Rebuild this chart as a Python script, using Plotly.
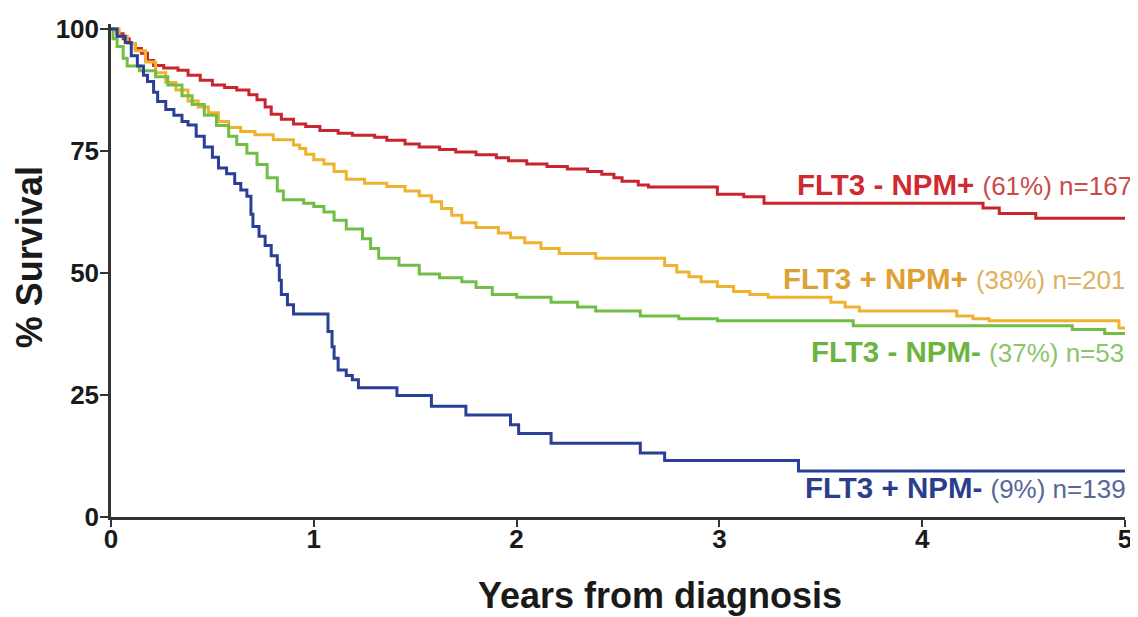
import plotly.graph_objects as go

# Kaplan-Meier step points (years, % surviving)
red_t = [0, 0.03, 0.06, 0.09, 0.12, 0.15, 0.18, 0.21, 0.26, 0.33, 0.38, 0.44, 0.50, 0.56, 0.62,
         0.68, 0.72, 0.76, 0.79, 0.84, 0.90, 0.96, 1.03, 1.12, 1.19, 1.30, 1.36, 1.45, 1.52, 1.62,
         1.70, 1.80, 1.90, 1.96, 2.05, 2.15, 2.25, 2.35, 2.42, 2.48, 2.52, 2.60, 2.65, 2.99, 3.12,
         3.22, 4.30, 4.38, 4.56, 5.0]
red_s = [100, 99, 98, 97, 96, 95, 93.5, 92.5, 92, 91.5, 90.5, 89.5, 88.5, 88, 87.5,
         86.5, 85.5, 84, 82.5, 81.5, 80.5, 80, 79.2, 78.6, 78.2, 77.8, 77.2, 76.4, 75.8, 75.3,
         74.8, 74.2, 73.6, 73.0, 72.3, 71.8, 71.3, 70.8, 70.2, 69.5, 68.8, 68.0, 67.6, 66.1, 65.6,
         64.3, 63.3, 62.2, 61.2, 61.2]

orange_t = [0, 0.04, 0.08, 0.12, 0.17, 0.22, 0.27, 0.32, 0.38, 0.43, 0.48, 0.53, 0.58, 0.64, 0.71,
            0.80, 0.90, 0.93, 0.96, 1.00, 1.05, 1.10, 1.16, 1.25, 1.36, 1.45, 1.52, 1.58, 1.63, 1.68,
            1.73, 1.80, 1.91, 1.97, 2.04, 2.12, 2.21, 2.39, 2.73, 2.79, 2.85, 2.91, 2.99, 3.07, 3.15,
            3.24, 3.55, 3.62, 3.69, 4.17, 4.25, 4.33, 4.97, 5.0]
orange_s = [100, 98.5, 97, 95.5, 93.2, 91, 89, 87.5, 85.2, 84, 82.8, 81, 79.8, 79, 78.3,
            77.3, 76.2, 75.5, 74.3, 73.2, 72.3, 70.8, 69.2, 68.4, 67.7, 66.8, 65.8, 64.6, 63.2, 61.8,
            60.3, 59.3, 58.2, 57.2, 56.2, 55.0, 54.0, 53.0, 51.5, 50.2, 49.2, 48.2, 47.2, 46.2, 45.6,
            45.0, 44.0, 43.0, 42.2, 41.2, 40.6, 40.2, 38.7, 38.7]

green_t = [0, 0.01, 0.03, 0.06, 0.08, 0.14, 0.22, 0.28, 0.35, 0.40, 0.46, 0.52, 0.58, 0.62, 0.67,
           0.72, 0.77, 0.82, 0.85, 0.95, 1.00, 1.05, 1.10, 1.16, 1.24, 1.28, 1.32, 1.42, 1.52, 1.62,
           1.73, 1.80, 1.88, 2.00, 2.17, 2.30, 2.39, 2.61, 2.80, 2.99, 3.66, 4.74, 4.90, 5.0]
green_s = [100, 98, 96.4, 94, 92.4, 91.4, 90.2, 88.5, 86.3, 84.5, 82.3, 80.2, 78, 76.3, 74.5,
           72.2, 69.5, 66.8, 65.0, 64.3, 63.6, 62.5, 60.8, 59, 57.0, 55, 53.0, 51.6, 49.8, 49.0,
           48.2, 47.0, 45.6, 45.0, 44.0, 43.0, 42.2, 41.2, 40.6, 40.2, 39.2, 38.4, 37.6, 37.6]

blue_t = [0, 0.03, 0.07, 0.10, 0.13, 0.16, 0.18, 0.21, 0.23, 0.27, 0.31, 0.35, 0.38, 0.42, 0.46,
          0.50, 0.53, 0.57, 0.61, 0.64, 0.67, 0.69, 0.70, 0.73, 0.76, 0.79, 0.82, 0.83, 0.84, 0.87,
          0.90, 1.07, 1.09, 1.10, 1.12, 1.16, 1.19, 1.22, 1.41, 1.58, 1.75, 1.97, 2.01, 2.17, 2.61,
          2.73, 3.39, 5.0]
blue_s = [100, 98.5, 97.2, 94.5, 92.4, 90.5, 89.2, 87, 85.1, 83.5, 82.3, 81, 80.3, 78, 75.8,
          73.7, 71.5, 70.3, 68.3, 67.0, 65.7, 62, 59.5, 57.5, 55.6, 53.5, 51.6, 48.5, 45.6, 43.5,
          41.6, 38, 34.9, 32.5, 30.1, 29, 28.1, 26.5, 24.9, 22.7, 20.9, 18.9, 17.1, 15.1, 13.1,
          11.6, 9.4, 9.4]

groups = ["FLT3 - NPM+", "FLT3 + NPM+", "FLT3 - NPM-", "FLT3 + NPM-"]
pct = ["(61%)", "(38%)", "(37%)", "(9%)"]
n_pat = [167, 201, 53, 139]

y_ticks = [0, 25, 50, 75, 100]
x_ticks = [0, 1, 2, 3, 4, 5]

line_cols = ["#c9252c", "#efb22e", "#72bd45", "#2a3f96"]
bold_cols = ["#cf2a2f", "#dfa033", "#6bb43f", "#2b3e8c"]
soft_cols = ["#c94a4a", "#e0b060", "#8cc46c", "#56679a"]

fig = go.Figure()
for t, s, c in zip([red_t, orange_t, green_t, blue_t], [red_s, orange_s, green_s, blue_s], line_cols):
    fig.add_trace(go.Scatter(x=t, y=s, mode="lines", line=dict(color=c, width=3, shape="hv"),
                             showlegend=False, hoverinfo="skip"))

# label placement (data coords: right edge x, vertical middle y)
lab_x = [5.0, 4.97, 4.96, 4.97]
lab_y = [68.1, 48.8, 34.0, 6.0]
for i in range(4):
    fig.add_annotation(
        x=lab_x[i], y=lab_y[i], xref="x", yref="y", xanchor="right", yanchor="middle",
        xshift=9, showarrow=False,
        text=f"<b>{groups[i]}</b> <span style='color:{soft_cols[i]};font-size:26px'>{pct[i]} n={n_pat[i]}</span>",
        font=dict(family="Liberation Sans, Arial", size=29.5, color=bold_cols[i]))

fig.add_annotation(x=-0.081, y=53.2, xref="paper", yref="y", textangle=-90, showarrow=False,
                   text="<b>% Survival</b>", xanchor="center", yanchor="middle",
                   font=dict(family="Liberation Sans, Arial", size=36, color="#1a1a1a"))
fig.add_annotation(x=(662 - 111) / 1018, y=-0.16, xref="paper", yref="paper", showarrow=False,
                   text="<b>Years from diagnosis</b>", xanchor="center", yanchor="middle",
                   font=dict(family="Liberation Sans, Arial", size=36, color="#1a1a1a"))

axis_font = dict(family="Liberation Sans, Arial", size=26, color="#1a1a1a", weight="bold")
fig.update_xaxes(range=[0, 5], tickvals=x_ticks, ticks="outside", ticklen=7, tickwidth=2,
                 tickcolor="#333", showline=True, linewidth=2.5, linecolor="#333",
                 showgrid=False, zeroline=False, tickfont=axis_font, ticklabelstandoff=-10,
                 ticklabeloverflow="allow")
fig.update_yaxes(range=[0, 101], tickvals=y_ticks, ticks="outside", ticklen=8, tickwidth=2,
                 tickcolor="#333", showline=True, linewidth=2.5, linecolor="#333",
                 showgrid=False, zeroline=False, tickfont=axis_font, ticklabelstandoff=-4,
                 ticklabeloverflow="allow")

# the page body adds an 8px offset, so the figure is 8px smaller than the window
fig.update_layout(width=1130, height=609, margin=dict(l=103, r=9, t=6, b=100),
                  plot_bgcolor="white", paper_bgcolor="white")

fig.write_html("out.html")
